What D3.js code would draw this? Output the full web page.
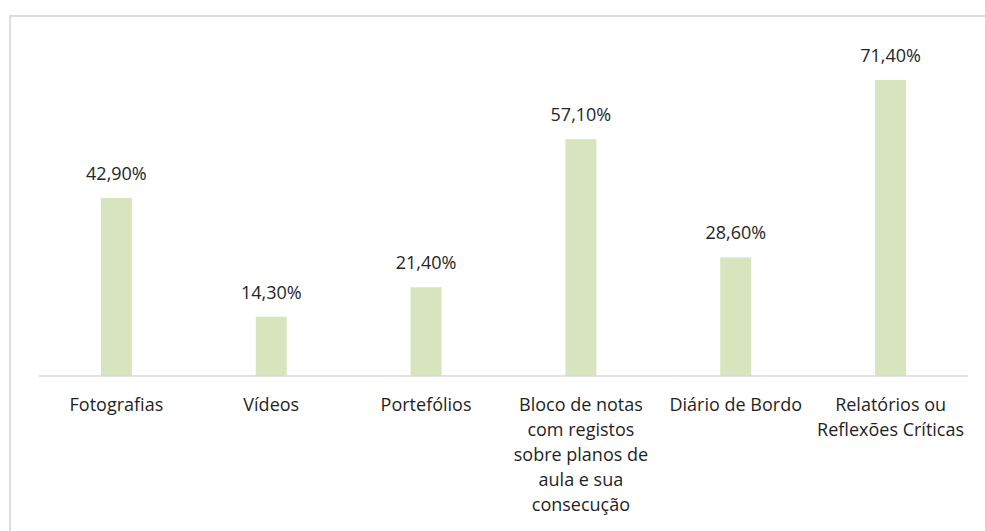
<!DOCTYPE html>
<html>
<head>
<meta charset="utf-8">
<script src="https://cdn.jsdelivr.net/npm/d3@7"></script>
<style>
    html, body { margin: 0; background: #fff; overflow: hidden; }
    svg { display: block; }
    svg text { font-family: "Open Sans", "Noto Sans", sans-serif; }
</style>
</head>
<body>
<svg id="chart"></svg>
<script>
const categories = ['Fotografias', 'Vídeos', 'Portefólios',
    'Bloco de notas com registos sobre planos de aula e sua consecução',
    'Diário de Bordo', 'Relatórios ou Reflexões Críticas'];
const values = [42.9, 14.3, 21.4, 57.1, 28.6, 71.4];

(function () {
    const width = 985, height = 531;
    const baseY = 376;

    const svg = d3.select('#chart')
        .attr('width', width)
        .attr('height', height);

    // chart frame: only the left and top edges fall inside the picture
    svg.append('path')
        .attr('d', d3.line()([[10, height], [10, 16], [width, 16]]))
        .attr('fill', 'none')
        .attr('stroke', '#dedede')
        .attr('stroke-width', 2);

    const x = d3.scaleBand()
        .domain(categories)
        .range([39, 968])
        .paddingInner(0.8)
        .paddingOuter(0.4);

    const y = d3.scaleLinear()
        .domain([0, 80])
        .range([baseY, baseY - 331.8]);

    svg.append('g')
        .selectAll('rect')
        .data(values)
        .join('rect')
        .attr('x', (d, i) => x(categories[i]))
        .attr('y', d => y(d))
        .attr('width', x.bandwidth())
        .attr('height', d => baseY - y(d))
        .attr('fill', '#d7e4bd');

    // baseline
    svg.append('line')
        .attr('x1', 39).attr('x2', 968)
        .attr('y1', baseY).attr('y2', baseY)
        .attr('stroke', '#d9d9d9')
        .attr('stroke-width', 1.5);

    const fmt = d => d.toFixed(2).replace('.', ',') + '%';

    svg.append('g')
        .selectAll('text')
        .data(values)
        .join('text')
        .attr('x', (d, i) => x(categories[i]) + x.bandwidth() / 2)
        .attr('y', d => y(d) - 18)
        .attr('text-anchor', 'middle')
        .attr('font-size', 18)
        .attr('fill', '#262626')
        .text(fmt);

    // category labels, wrapped to the band step
    const step = x.step();
    const labels = svg.append('g')
        .selectAll('text')
        .data(categories)
        .join('text')
        .attr('text-anchor', 'middle')
        .attr('font-size', 18)
        .attr('fill', '#1f1f1f')
        .attr('x', d => x(d) + x.bandwidth() / 2)
        .attr('y', 411);

    labels.each(function (d) {
        const text = d3.select(this);
        const cx = +text.attr('x');
        const words = d.split(' ');
        let line = [];
        let tspan = text.append('tspan').attr('x', cx).attr('dy', 0);
        words.forEach(w => {
            line.push(w);
            tspan.text(line.join(' '));
            if (tspan.node().getComputedTextLength() > step - 2 && line.length > 1) {
                line.pop();
                tspan.text(line.join(' '));
                line = [w];
                tspan = text.append('tspan').attr('x', cx).attr('dy', 25).text(w);
            }
        });
    });
})();
</script>
</body>
</html>
